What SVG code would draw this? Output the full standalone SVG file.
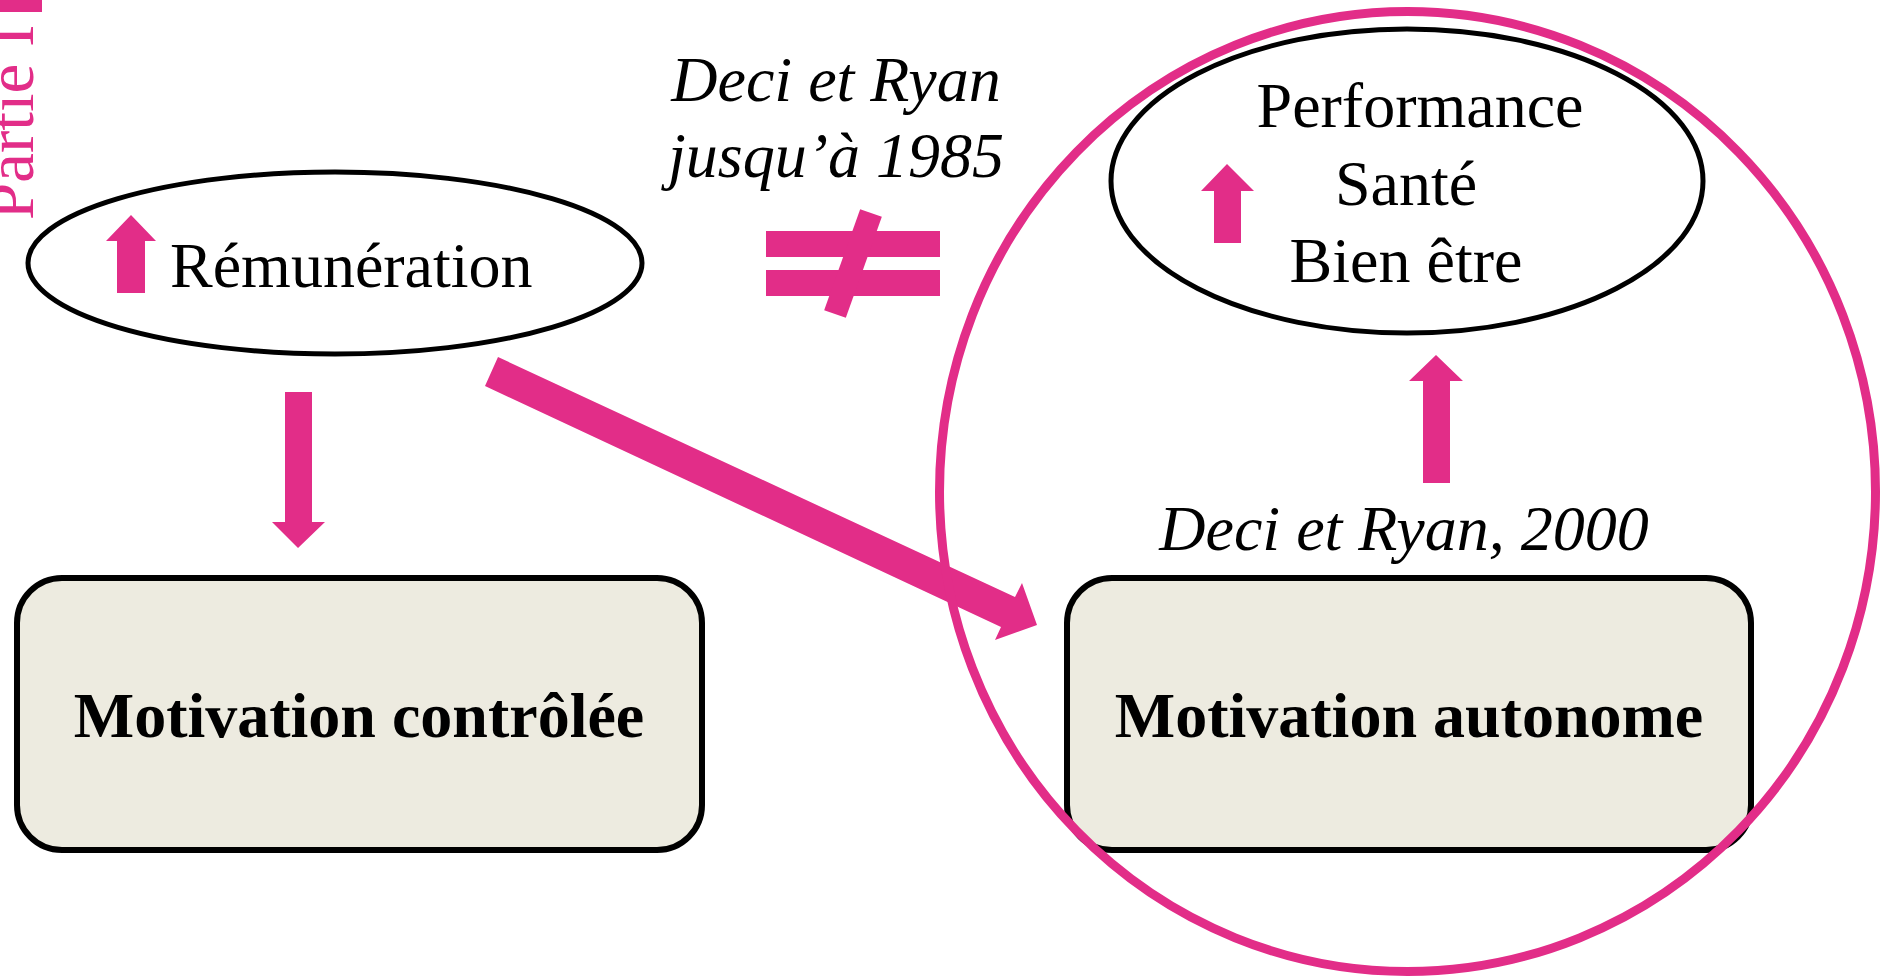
<svg xmlns="http://www.w3.org/2000/svg" width="1882" height="977" viewBox="0 0 1882 977">
<style>
.t{font-family:"Liberation Serif","Times New Roman",serif;fill:#000;}
.i{font-style:italic;}
.b{font-weight:bold;}
.pk{fill:#E22D88;}
.ell{fill:#fff;stroke:#000;stroke-width:5;}
.box{fill:#EDEBE0;stroke:#000;stroke-width:6;}
</style>
<rect width="1882" height="977" fill="#fff"/>
<g id="header">
<rect class="pk" x="0" y="0" width="42" height="12"/>
<text class="t" transform="translate(33,220) rotate(-90)" font-size="67" style="fill:#E22D88">Partie I</text>
</g>
<g id="remuneration">
<ellipse class="ell" cx="335" cy="263" rx="307" ry="91"/>
<polygon class="pk" points="131,215 156,241 145,241 145,293 117,293 117,241 106,241"/>
<text class="t" x="170" y="287" font-size="64">Rémunération</text>
</g>
<g id="deci1985">
<text class="t i" x="836" y="101" font-size="64" text-anchor="middle">Deci et Ryan</text>
<text class="t i" x="836" y="177" font-size="64" text-anchor="middle">jusqu’à 1985</text>
</g>
<g id="neq">
<rect class="pk" x="766" y="231" width="174" height="26"/>
<rect class="pk" x="766" y="270" width="174" height="26"/>
<line x1="871" y1="213" x2="835" y2="314" stroke="#E22D88" stroke-width="23"/>
</g>
<g id="performance">
<ellipse class="ell" cx="1407" cy="181" rx="296" ry="152"/>
<polygon class="pk" points="1227,164 1254,191 1241,191 1241,243 1214,243 1214,191 1201,191"/>
<text class="t" x="1420" y="127" font-size="64" text-anchor="middle">Performance</text>
<text class="t" x="1406" y="205" font-size="64" text-anchor="middle">Santé</text>
<text class="t" x="1406" y="282" font-size="64" text-anchor="middle">Bien être</text>
</g>
<g id="controlee">
<rect class="box" x="17" y="578" width="685" height="272" rx="45" ry="45"/>
<text class="t b" x="359" y="737" font-size="64" text-anchor="middle">Motivation contrôlée</text>
</g>
<g id="autonome">
<rect class="box" x="1067" y="578" width="684" height="272" rx="45" ry="45"/>
<text class="t b" x="1409" y="737" font-size="64" text-anchor="middle">Motivation autonome</text>
</g>
<g id="deci2000">
<text class="t i" x="1404" y="550" font-size="64" text-anchor="middle">Deci et Ryan, 2000</text>
</g>
<g id="connectors">
<polygon class="pk" points="285,392 312,392 312,522 325,522 298,548 272,522 285,522"/>
<polygon class="pk" points="498,357 1015,597 1022,583 1037,625 995,640 1001,627 485,386"/>
<polygon class="pk" points="1436,355 1463,381 1450,381 1450,483 1423,483 1423,381 1409,381"/>
</g>
<g id="circle">
<ellipse cx="1407.5" cy="491.5" rx="468" ry="480" fill="none" stroke="#E22D88" stroke-width="9"/>
</g>
</svg>
